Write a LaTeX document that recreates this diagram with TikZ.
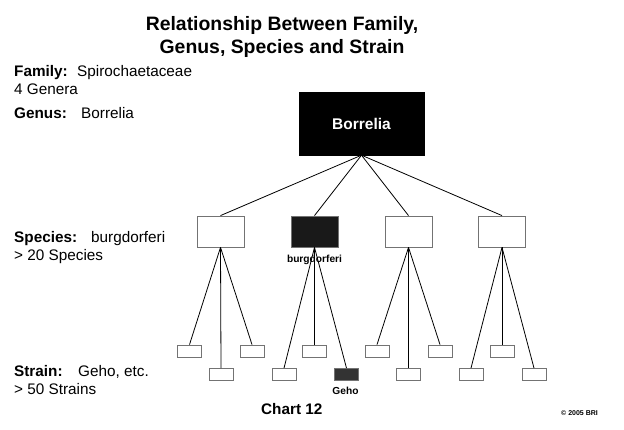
\documentclass[tikz,border=0pt]{standalone}
\usepackage{fontspec}
\setmainfont{Liberation Sans}
\begin{document}
\begin{tikzpicture}[x=1pt,y=-1pt,
  box/.style={draw=black!55, line width=0.8pt, inner sep=0pt},
  spbox/.style={box, minimum width=47pt, minimum height=31pt},
  stbox/.style={box, minimum width=24pt, minimum height=12pt},
  conn/.style={draw=black, line width=0.8pt},
  lbl/.style={anchor=base west, inner sep=0pt, font=\fontsize{15.3}{18}\selectfont},
  blbl/.style={lbl, font=\fontsize{15.3}{18}\selectfont\bfseries},
  small/.style={inner sep=0pt, anchor=base, font=\fontsize{10.2}{12}\selectfont\bfseries}
]
\useasboundingbox (0,0) rectangle (624,430);
\fill[white] (0,0) rectangle (624,430);
% title
\node[inner sep=0pt, anchor=base, font=\fontsize{19.4}{22}\selectfont\bfseries] (t1) at (282,31) {Relationship Between Family,};
\node[inner sep=0pt, anchor=base, font=\fontsize{19.4}{22}\selectfont\bfseries] (t2) at (282,54) {Genus, Species and Strain};
% left labels
\node[blbl] (fam) at (14,77) {Family:};
\node[lbl] (famv) at (77,77) {Spirochaetaceae};
\node[lbl] (gen4) at (14,95) {4 Genera};
\node[blbl] (gen) at (14,119) {Genus:};
\node[lbl] (genv) at (81,119) {Borrelia};
\node[blbl] (spe) at (14,243) {Species:};
\node[lbl] (spev) at (91,243) {burgdorferi};
\node[lbl] (spe20) at (14,261) {> 20 Species};
\node[blbl] (str) at (14,377) {Strain:};
\node[lbl] (strv) at (78,377) {Geho, etc.};
\node[lbl] (str50) at (14,394) {> 50 Strains};
\node[blbl, anchor=base west] (chart) at (261,414) {Chart 12};
\node[inner sep=0pt, anchor=base west, font=\fontsize{7}{8}\selectfont\bfseries] (copy) at (561,415) {© 2005 BRI};
% genus
\node[fill=black, draw=black, minimum width=125pt, minimum height=63pt, inner sep=0pt,
  text=white, font=\fontsize{15.5}{18}\selectfont\bfseries] (bor) at (361.5,123.5) {Borrelia};
% species
\node[spbox] (s1) at (220.5,231.5) {};
\node[spbox, fill=black!90] (s2) at (314.5,231.5) {};
\node[spbox] (s3) at (408.5,231.5) {};
\node[spbox] (s4) at (502,231.5) {};
\node[small] (bl) at (314.5,263) {burgdorferi};
\foreach \s in {s1,s2,s3,s4} \draw[conn] (bor.south) -- (\s.north);
% strains
\node[stbox] (a1) at (189.5,351) {};
\node[stbox] (a2) at (221,374.5) {};
\node[stbox] (a3) at (252,351) {};
\node[stbox] (b1) at (284,374.5) {};
\node[stbox] (b2) at (314.5,351) {};
\node[stbox, fill=black!80] (b3) at (346.5,374.5) {};
\node[stbox] (c1) at (377,351) {};
\node[stbox] (c2) at (408.5,374.5) {};
\node[stbox] (c3) at (440,351) {};
\node[stbox] (d1) at (471,374.5) {};
\node[stbox] (d2) at (502,351) {};
\node[stbox] (d3) at (534,374.5) {};
\node[small] (gl) at (345.5,394) {Geho};
\foreach \t in {a1,a2,a3} \draw[conn] (s1.south) -- (\t.north);
\foreach \t in {b1,b2,b3} \draw[conn] (s2.south) -- (\t.north);
\foreach \t in {c1,c2,c3} \draw[conn] (s3.south) -- (\t.north);
\foreach \t in {d1,d2,d3} \draw[conn] (s4.south) -- (\t.north);
\end{tikzpicture}
\end{document}
